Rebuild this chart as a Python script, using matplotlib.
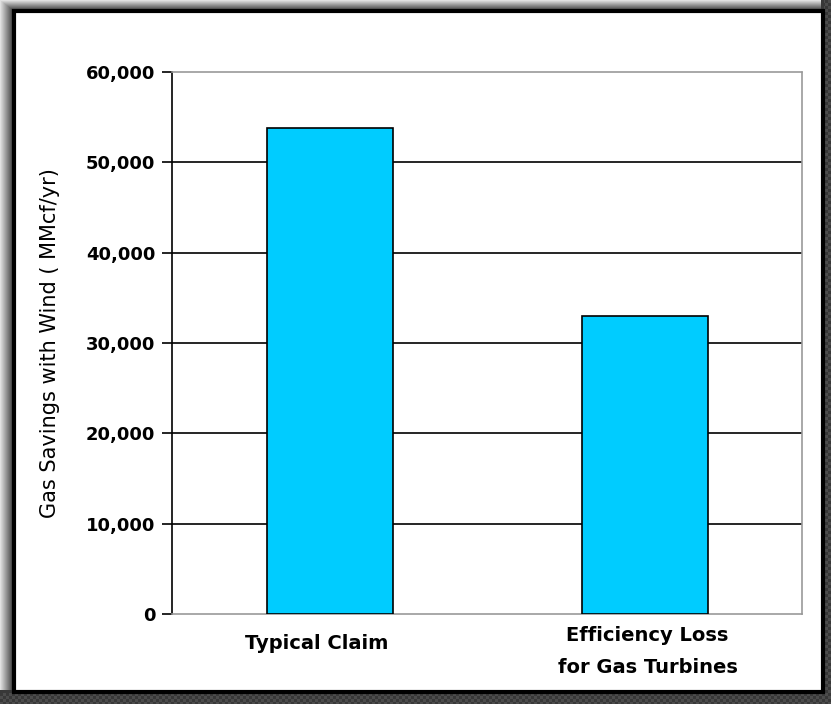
import matplotlib.pyplot as plt
import numpy as np
from matplotlib.patches import Rectangle
from matplotlib.ticker import FuncFormatter

categories = ["Typical Claim", "Efficiency Loss\nfor Gas Turbines"]
savings = [53800, 33000]
yticks = [0, 10000, 20000, 30000, 40000, 50000, 60000]

plt.rcParams["font.family"] = ["DejaVu Sans"]

W, H = 831, 704
fig = plt.figure(figsize=(W / 100, H / 100), dpi=100)

# Framed background: light fade on the top/left edge, dark shadow bottom/right
bg = fig.add_axes([0, 0, 1, 1])
yy, xx = np.mgrid[0:H, 0:W]
shade = np.full((H, W), 0.22)
fade_x = np.clip(1 - xx / 13.0, 0, 1)
fade_y = np.clip(1 - yy / 10.0, 0, 1)
shade = shade + (0.88 - 0.22) * np.maximum(fade_x * (yy < H - 14), fade_y * (xx < W - 10))
dots = ((xx // 3 + yy // 3) % 2 == 0) & ((xx > W - 8) | (yy > H - 12))
shade[dots] += 0.08
bg.imshow(shade, cmap="gray", vmin=0, vmax=1, extent=[0, W, H, 0], aspect="auto")
bg.add_patch(Rectangle((14, 11), 809, 681, facecolor="white", edgecolor="black", lw=3))
bg.set_xlim(0, W)
bg.set_ylim(H, 0)
bg.axis("off")

ax = fig.add_axes([172 / W, 1 - 614 / H, 630 / W, 542 / H])
x = np.arange(len(categories))
ax.bar(x, savings, width=0.4, color="#00ccff", edgecolor="black", linewidth=1.2, zorder=3)

ax.set_xlim(-0.5, len(categories) - 0.5)
ax.set_ylim(0, 60000)
ax.set_yticks(yticks)
ax.yaxis.set_major_formatter(FuncFormatter(lambda v, p: f"{int(v):,}"))
ax.set_xticks(x)
ax.set_xticklabels([])
ax.tick_params(axis="x", length=0)
ax.tick_params(axis="y", direction="out", length=7, width=1.2, pad=5, labelsize=13)
for lbl in ax.get_yticklabels():
    lbl.set_fontweight("bold")

# category names under the bars
label_y = [-0.054, -0.069]
label_dx = [-0.04, 0.01]
for xi, name, ly, dx in zip(x, categories, label_y, label_dx):
    ax.text(xi + dx, ly, name, transform=ax.get_xaxis_transform(), ha="center", va="center",
            fontsize=14, fontweight="bold", linespacing=1.9)

for v in yticks[1:-1]:
    ax.axhline(v, color="black", lw=1.2, zorder=1)

ax.spines["left"].set_linewidth(1.2)
for side in ["top", "right", "bottom"]:
    ax.spines[side].set_color("#999999")
    ax.spines[side].set_linestyle((0, (1, 1)))
    ax.spines[side].set_linewidth(1.2)

ax.set_ylabel("Gas Savings with Wind ( MMcf/yr)", fontsize=15, labelpad=19)

fig.savefig("out.png", dpi=100)
